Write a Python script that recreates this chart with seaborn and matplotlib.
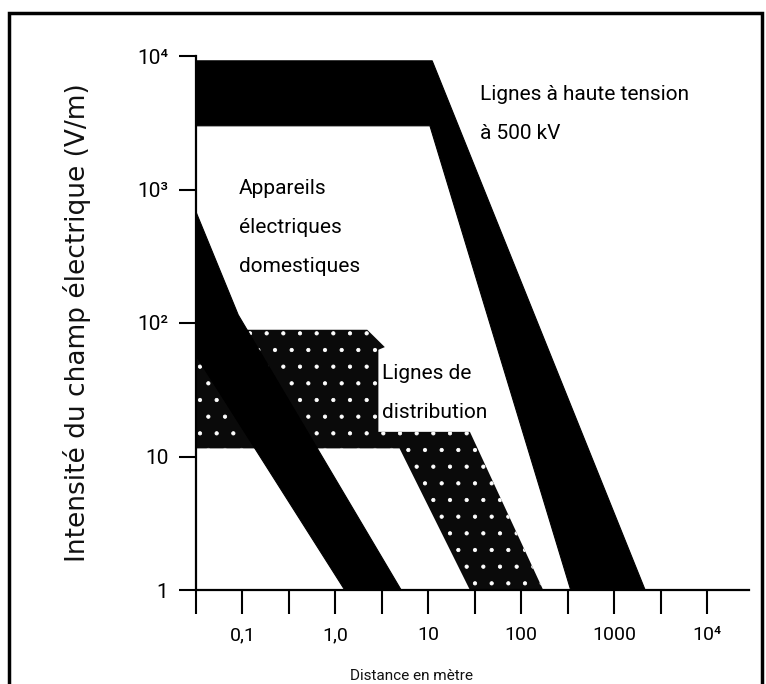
import matplotlib
matplotlib.use("Agg")
import matplotlib.pyplot as plt
import seaborn as sns
import numpy as np
from matplotlib.patches import Rectangle
from matplotlib.ticker import NullLocator

# ---- data ----
hv_x = [0.0316, 11, 2150, 340, 10.4, 0.0316]          # Lignes à haute tension
hv_y = [9200, 9200, 1, 1, 3000, 3000]
dom_x = [0.0316, 0.09, 5.1, 1.26, 0.0316]              # Appareils électriques domestiques
dom_y = [680, 115, 1, 1, 57]
dist_x = [0.0316, 2.2, 3.4, 2.9, 2.9, 28, 172, 28, 4.9, 0.0316]   # Lignes de distribution
dist_y = [89, 89, 66, 63, 15.3, 15.3, 1, 1, 11.5, 11.5]

x_tick_values = [10 ** (k / 2) for k in range(-3, 9)]
x_tick_labels = ["", "0,1", "", "1,0", "", "10", "", "100", "", "1000", "", "10⁴"]
y_tick_values = [1, 10, 100, 1000, 10000]
y_tick_labels = ["1", "10", "10²", "10³", "10⁴"]

sns.set_theme(style="ticks")
plt.rcParams["font.family"] = ["Roboto", "DejaVu Sans"]
plt.rcParams["hatch.linewidth"] = 0.6
narrow = ["Roboto", "DejaVu Sans"]

fig = plt.figure(figsize=(7.66, 6.84), dpi=100)
fig.patch.set_facecolor("white")
ax = fig.add_axes([196 / 766, 94 / 684, 553 / 766, 534 / 684])
ax.set_facecolor("white")

ax.set_xscale("log")
ax.set_yscale("log")
ax.set_xlim(10 ** -1.5, 10 ** 4.45)
ax.set_ylim(1, 10000)

ax.fill(dist_x, dist_y, facecolor="#0a0a0a", edgecolor="white", hatch=".", linewidth=0, zorder=2)
ax.fill(dom_x, dom_y, facecolor="black", edgecolor="black", linewidth=0.8, zorder=3)
ax.fill(hv_x, hv_y, facecolor="black", edgecolor="black", linewidth=0.8, zorder=3)

ax.xaxis.set_minor_locator(NullLocator())
ax.yaxis.set_minor_locator(NullLocator())
ax.set_xticks(x_tick_values)
ax.set_xticklabels(x_tick_labels)
ax.set_yticks(y_tick_values)
ax.set_yticklabels(y_tick_labels)

for s in ["top", "right"]:
    ax.spines[s].set_visible(False)
for s in ["left", "bottom"]:
    ax.spines[s].set_linewidth(1.6)
    ax.spines[s].set_color("black")
    ax.spines[s].set_zorder(5)

ax.tick_params(axis="x", direction="out", length=17, width=1.5, pad=9,
               labelsize=14, colors="black")
ax.tick_params(axis="y", direction="out", length=12, width=1.5, pad=8,
               labelsize=15, colors="black")
for lab in ax.get_xticklabels() + ax.get_yticklabels():
    lab.set_family(narrow)

ax.set_ylabel("Intensité du champ électrique (V/m)", fontsize=19,
              family=["DejaVu Sans"], color="#111111")
ax.yaxis.set_label_coords(-0.19, 0.5)
ax.set_xlabel("Distance en mètre", fontsize=11, family=narrow, color="#111111")
ax.xaxis.set_label_coords(0.39, -0.148)

txt = dict(family=narrow, fontsize=15, color="black", ha="left", va="center", zorder=6)
ax.text(35.8, 5190, "Lignes à haute tension", **txt)
ax.text(35.8, 2640, "à 500 kV", **txt)
ax.text(0.0917, 1025, "Appareils", **txt)
ax.text(0.0917, 523, "électriques", **txt)
ax.text(0.0917, 267, "domestiques", **txt)
ax.text(3.16, 42.2, "Lignes de", **txt)
ax.text(3.16, 21.2, "distribution", **txt)

fig.add_artist(Rectangle((9 / 766, -0.05), 753 / 766, 1.05 - 13 / 684,
                         transform=fig.transFigure, fill=False,
                         edgecolor="black", linewidth=2.5, clip_on=False))

fig.savefig("out.png", dpi=100, facecolor="white")
